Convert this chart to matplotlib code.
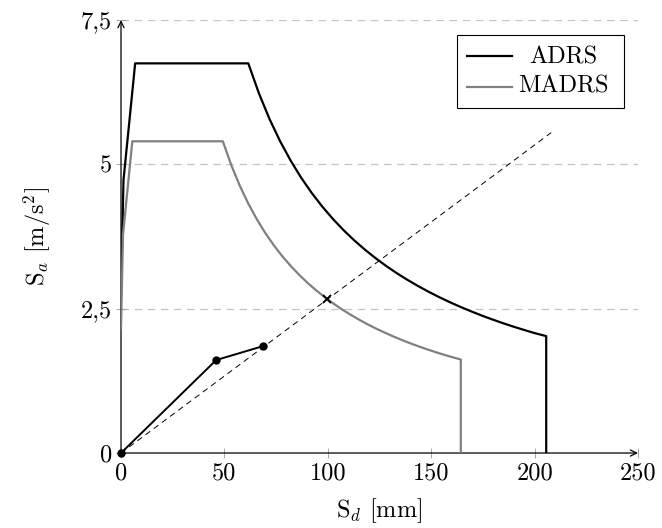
import matplotlib
matplotlib.use("Agg")
import matplotlib.pyplot as plt
from matplotlib.lines import Line2D
from matplotlib.patches import Rectangle

plt.rcParams["font.family"] = "cmr10"
plt.rcParams["mathtext.fontset"] = "cm"
plt.rcParams["axes.unicode_minus"] = False

# ADRS spectrum (Sd in mm, Sa in m/s^2)
adrs_sd = [0.0, 1.197, 6.84,
           61.55, 66.68, 71.81, 76.94, 82.07, 87.19, 92.32, 97.45, 102.58,
           107.71, 112.84, 117.97, 123.10, 128.23, 133.36, 138.49, 143.62,
           148.75, 153.88, 159.00, 164.13, 169.26, 174.39, 179.52, 184.65,
           189.78, 194.91, 200.04, 205.6, 205.6]
adrs_sa = [2.7, 4.73, 6.75,
           6.75, 6.231, 5.786, 5.4, 5.063, 4.765, 4.5, 4.263, 4.05,
           3.857, 3.682, 3.522, 3.375, 3.24, 3.115, 3.0, 2.893,
           2.793, 2.7, 2.613, 2.531, 2.455, 2.382, 2.314, 2.25,
           2.189, 2.132, 2.077, 2.025, 0.0]

# MADRS spectrum
madrs_sd = [0.0, 0.958, 5.47,
            49.24, 53.34, 57.45, 61.55, 65.66, 69.75, 73.86, 77.96, 82.06,
            86.17, 90.27, 94.38, 98.48, 102.58, 106.69, 110.79, 114.90,
            119.00, 123.10, 127.20, 131.30, 135.41, 139.51, 143.62, 147.72,
            151.82, 155.93, 160.03, 164.3, 164.3]
madrs_sa = [2.16, 3.78, 5.4,
            5.4, 4.985, 4.629, 4.32, 4.05, 3.812, 3.6, 3.41, 3.24,
            3.086, 2.945, 2.818, 2.7, 2.592, 2.492, 2.4, 2.314,
            2.234, 2.16, 2.091, 2.025, 1.964, 1.906, 1.851, 1.8,
            1.751, 1.705, 1.662, 1.62, 0.0]

# capacity curve
cap_sd = [0.0, 46.0, 68.5]
cap_sa = [0.0, 1.61, 1.85]

# period line through the performance point
radial_sd = [0.0, 208.0]
radial_sa = [0.0, 5.55]
perf_sd = [99.8]
perf_sa = [2.665]

x_ticks = [0, 50, 100, 150, 200, 250]
y_ticks = [0, 2.5, 5, 7.5]
y_tick_labels = ["0", "2,5", "5", "7,5"]

FS = 17.5
GRAY = "#808080"

fig = plt.figure(figsize=(6.62, 5.28), dpi=100)
ax = fig.add_axes([0.1828, 0.142, 0.781, 0.820])

ax.set_xlim(0, 250)
ax.set_ylim(0, 7.5)

for y in y_ticks[1:]:
    ax.plot([0, 250], [y, y], color="#c4c4c4", lw=0.9, ls=(0, (6, 4.5)), zorder=1)

ax.plot(adrs_sd, adrs_sa, color="black", lw=1.6, zorder=3)
ax.plot(madrs_sd, madrs_sa, color=GRAY, lw=1.6, zorder=3)
ax.plot(radial_sd, radial_sa, color="black", lw=0.7, ls=(0, (6, 4.5)), zorder=2)
ax.plot(cap_sd, cap_sa, color="black", lw=1.4, marker="o", ms=5, zorder=4,
        clip_on=False)
ax.plot(perf_sd, perf_sa, color="black", marker="x", ms=6, mew=1.4, ls="none",
        zorder=5)

for side in ["top", "right", "left", "bottom"]:
    ax.spines[side].set_visible(False)

arrow = dict(arrowstyle="->,head_length=0.45,head_width=0.22", lw=0.9,
             color="black", shrinkA=0, shrinkB=0)
ax.annotate("", xy=(250, 0), xytext=(0, 0), arrowprops=arrow,
            annotation_clip=False, zorder=2)
ax.annotate("", xy=(0, 7.5), xytext=(0, 0), arrowprops=arrow,
            annotation_clip=False, zorder=2)

ax.set_xticks(x_ticks)
ax.set_xticklabels([str(t) for t in x_ticks])
ax.set_yticks(y_ticks)
ax.set_yticklabels(y_tick_labels)
ax.tick_params(direction="inout", length=7, width=0.6, color="#999999",
               labelsize=FS, pad=3)

ax.set_xlabel(r"S$_d$ [mm]", fontsize=FS, labelpad=9)
ax.set_ylabel(r"S$_a$ [m/s$^2$]", fontsize=FS, labelpad=20)

# legend drawn by hand so the entries are centred like the original
tr = ax.transAxes
ax.add_patch(Rectangle((0.650, 0.797), 0.323, 0.168, transform=tr,
                       facecolor="white", edgecolor="black", lw=0.8, zorder=6))
ax.add_line(Line2D([0.669, 0.756], [0.917, 0.917], transform=tr,
                   color="black", lw=1.6, zorder=7))
ax.add_line(Line2D([0.669, 0.756], [0.845, 0.845], transform=tr,
                   color=GRAY, lw=1.6, zorder=7))
ax.text(0.855, 0.914, "ADRS", transform=tr, fontsize=FS, ha="center",
        va="center", zorder=7)
ax.text(0.855, 0.847, "MADRS", transform=tr, fontsize=FS, ha="center",
        va="center", zorder=7)

fig.savefig("out.png", dpi=100)
